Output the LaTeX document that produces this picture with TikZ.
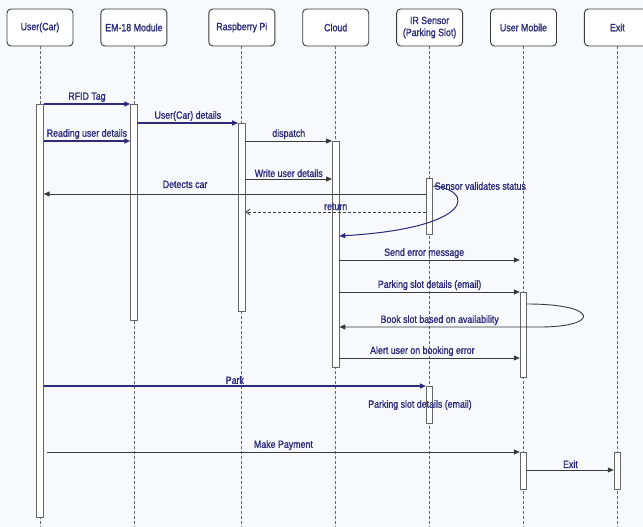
\documentclass[tikz,border=0pt]{standalone}
\usepackage{fontspec}
\setmainfont{Liberation Sans}[FakeStretch=0.84, FakeBold=1.2]
\usetikzlibrary{positioning,arrows.meta}
\definecolor{navy}{HTML}{2B2B7B}
\definecolor{linegray}{HTML}{3A3A3A}
\definecolor{paper}{HTML}{F8F9FC}

\begin{document}
\begin{tikzpicture}[x=1pt, y=-1pt,
node distance=27pt,
font=\fontsize{10.5}{12}\selectfont,
head/.style={draw=linegray, rounded corners=4pt, minimum width=66pt, minimum height=37pt, align=center, text=navy, fill=white, inner sep=1pt, line width=0.9pt},
act/.style={draw=gray!80!black, fill=white, minimum width=6.5pt, inner sep=0pt, anchor=north, line width=0.8pt},
life/.style={densely dashed, gray!80!black, line width=0.7pt},
msg/.style={-{Triangle[length=6pt, width=5pt]}, linegray, line width=0.9pt},
bmsg/.style={msg, navy, line width=1.2pt},
ret/.style={-{Straight Barb[length=4pt, width=6pt]}, densely dashed, linegray, line width=0.8pt},
lbl/.style={above, text=navy, inner sep=1.5pt}
]
\fill[paper] (0,0) rectangle (643,527);
\useasboundingbox (0,0) rectangle (643,527);

% participants
\node[head] (user) at (40,27.5) {User(Car)};
\node[head, right=of user] (em) {EM-18 Module};
\node[head, right=41pt of em] (rpi) {Raspberry Pi};
\node[head, right=of rpi] (cloud) {Cloud};
\node[head, right=of cloud] (ir) {IR Sensor\\(Parking Slot)};
\node[head, right=of ir] (mob) {User Mobile};
\node[head, right=of mob] (exit) {Exit};

% message levels
\coordinate (bot) at (0,527);
\coordinate (m1) at (0,104);
\coordinate (m2) at (0,123);
\coordinate (m3) at (0,141);
\coordinate (m4) at (0,179);
\coordinate (m5) at (0,194);
\coordinate (m6) at (0,212);
\coordinate (m7) at (0,260);
\coordinate (m8) at (0,292);
\coordinate (m9) at (0,327);
\coordinate (m10) at (0,358);
\coordinate (m11) at (0,386);
\coordinate (m12) at (47,452);
\coordinate (m13) at (0,470);

\foreach \n in {user,em,rpi,cloud,ir,mob,exit}
  \draw[life] (\n.south) -- (\n.south |- bot);

% activations
\node[act, minimum height=413pt] (uact) at (user |- m1) {};
\node[act, minimum height=216pt] (emact) at (em |- m1) {};
\node[act, minimum height=188pt] (rpiact) at (rpi |- m2) {};
\node[act, minimum height=226pt] (clact) at (cloud |- m3) {};
\node[act, minimum height=56pt] (iract) at (ir |- 0,178) {};
\node[act, minimum height=85pt] (mobact) at (mob |- m8) {};
\node[act, minimum height=37pt] (irpark) at (ir |- m11) {};
\node[act, minimum height=37pt] (mobpay) at (mob |- m12) {};
\node[act, minimum height=37pt] (exact) at (exit |- m12) {};

% messages
\draw[bmsg] (uact.east |- m1) -- node[lbl]{RFID Tag} (emact.west |- m1);
\draw[bmsg] (emact.east |- m2) -- node[lbl]{User(Car) details} (rpiact.west |- m2);
\draw[bmsg] (uact.east |- m3) -- node[lbl]{Reading user details} (emact.west |- m3);
\draw[msg] (rpiact.east |- m3) -- node[lbl]{dispatch} (clact.west |- m3);
\draw[msg] (rpiact.east |- m4) -- node[lbl]{Write user details} (clact.west |- m4);
\draw[msg] (iract.west |- m5) -- node[lbl, pos=0.63, yshift=4pt]{Detects car} (uact.east |- m5);
\draw[ret] (iract.west |- m6) -- node[lbl]{return} (rpiact.east |- m6);
\draw[msg, navy, line width=1pt] (iract.east |- 0,186) node[anchor=west, text=navy, inner sep=1pt]{Sensor validates status}
  .. controls (475,190) and (475,228) .. (clact.east |- 0,236);
\draw[msg] (clact.east |- m7) -- node[lbl, pos=0.47]{Send error message} (mobact.west |- m7);
\draw[msg] (clact.east |- m8) -- node[lbl]{Parking slot details (email)} (mobact.west |- m8);
\draw[msg] (mobact.east |- 0,304) .. controls (600,304) and (600,327) .. (540,327)
  -- node[lbl]{Book slot based on availability} (clact.east |- m9);
\draw[msg] (clact.east |- m10) -- node[lbl, pos=0.46]{Alert user on booking error} (mobact.west |- m10);
\draw[bmsg] (uact.east |- m11) -- node[lbl]{Park} (irpark.west |- m11);
\node[text=navy] (psd) at (420,405) {Parking slot details (email)};
\draw[msg] (m12) -- node[lbl]{Make Payment} (mobpay.west |- m12);
\draw[msg] (mobpay.east |- m13) -- node[lbl]{Exit} (exact.west |- m13);
\end{tikzpicture}
\end{document}
